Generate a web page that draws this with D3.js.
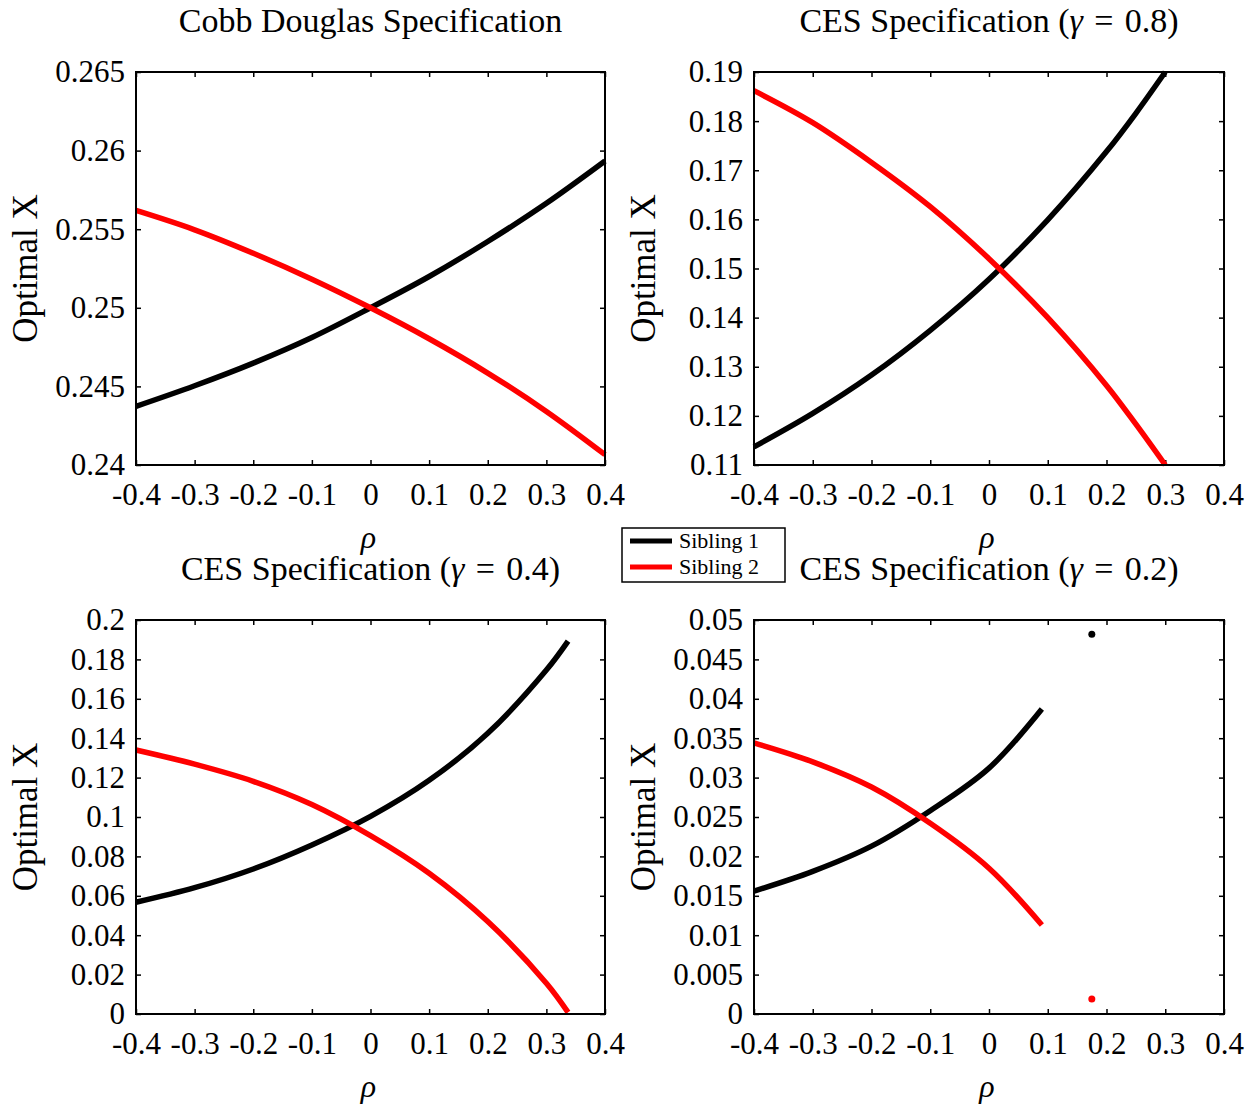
<!DOCTYPE html>
<html>
<head>
	<meta charset="utf-8">
	<title>Optimal X by rho</title>
	<script src="https://cdn.jsdelivr.net/npm/d3@7"></script>
</head>
<style type="text/css">
	body { margin:0; background-color:#fff; }
	text { font-family:"Liberation Serif", "Times New Roman", serif; fill:#000; }
</style>
<body>
</body>
</html>
<script type="text/javascript">
	var width = 1255;
	var height = 1110;

	// x ticks, shared by all panels
	var rhoTicks = [-0.4, -0.3, -0.2, -0.1, 0, 0.1, 0.2, 0.3, 0.4];

	// Cobb Douglas
	var cdRho = [-0.4, -0.3, -0.2, -0.1, 0, 0.1, 0.2, 0.3, 0.4];
	var cdSibling1 = [0.24373, 0.24504, 0.24648, 0.24811, 0.25, 0.25199, 0.25422, 0.25665, 0.25934];
	var cdSibling2 = [0.25619, 0.25496, 0.25347, 0.25182, 0.25, 0.24803, 0.24585, 0.24341, 0.24066];
	var cdTicks = [0.24, 0.245, 0.25, 0.255, 0.26, 0.265];

	// CES gamma = 0.8
	var ces08Rho = [-0.4, -0.3, -0.2, -0.1, 0, 0.1, 0.2, 0.25, 0.3];
	var ces08Sibling1 = [0.1137, 0.1205, 0.1283, 0.1374, 0.1478, 0.1599, 0.1738, 0.1816, 0.1900];
	var ces08Sibling2 = [0.1862, 0.1797, 0.1716, 0.1626, 0.1520, 0.1400, 0.1262, 0.1183, 0.1100];
	var ces08Ticks = [0.11, 0.12, 0.13, 0.14, 0.15, 0.16, 0.17, 0.18, 0.19];

	// CES gamma = 0.4
	var ces04Rho = [-0.4, -0.3, -0.2, -0.1, 0, 0.1, 0.2, 0.3, 0.337];
	var ces04Sibling1 = [0.0567, 0.0641, 0.0736, 0.0858, 0.1003, 0.1186, 0.1425, 0.1746, 0.1893];
	var ces04Sibling2 = [0.1340, 0.1268, 0.1181, 0.1063, 0.0905, 0.0714, 0.0469, 0.0156, 0.0008];
	var ces04Ticks = [0, 0.02, 0.04, 0.06, 0.08, 0.1, 0.12, 0.14, 0.16, 0.18, 0.2];

	// CES gamma = 0.2 (plus the isolated points)
	var ces02Rho = [-0.4, -0.3, -0.2, -0.1, 0, 0.09];
	var ces02Sibling1 = [0.0156, 0.0181, 0.0213, 0.0258, 0.0312, 0.0387];
	var ces02Sibling2 = [0.0344, 0.0320, 0.0288, 0.0242, 0.0185, 0.0113];
	var ces02DotRho = 0.175;
	var ces02DotSibling1 = 0.0482;
	var ces02DotSibling2 = 0.0019;
	var ces02Ticks = [0, 0.005, 0.01, 0.015, 0.02, 0.025, 0.03, 0.035, 0.04, 0.045, 0.05];

	var seriesNames = ["Sibling 1", "Sibling 2"];
	var seriesColors = ["#000000", "#ff0000"];

	var panels = [
		{title:["Cobb Douglas Specification"], left:136, top:72, w:469, h:393, rho:cdRho, s1:cdSibling1, s2:cdSibling2, yTicks:cdTicks},
		{title:["CES Specification (", "γ", "\u2004=\u20040.8)"], left:754, top:72, w:470, h:393, rho:ces08Rho, s1:ces08Sibling1, s2:ces08Sibling2, yTicks:ces08Ticks},
		{title:["CES Specification (", "γ", "\u2004=\u20040.4)"], left:136, top:620, w:469, h:394, rho:ces04Rho, s1:ces04Sibling1, s2:ces04Sibling2, yTicks:ces04Ticks},
		{title:["CES Specification (", "γ", "\u2004=\u20040.2)"], left:754, top:620, w:470, h:394, rho:ces02Rho, s1:ces02Sibling1, s2:ces02Sibling2, yTicks:ces02Ticks,
			dots:[[ces02DotRho, ces02DotSibling1], [ces02DotRho, ces02DotSibling2]]}
	];

	var svg = d3.select("body").append("svg").attr("width", width).attr("height", height);

	panels.forEach(function(p) {
		var g = svg.append("g").attr("transform", "translate(" + p.left + "," + p.top + ")");
		var x = d3.scaleLinear().domain([-0.4, 0.4]).range([0, p.w]);
		var y = d3.scaleLinear().domain(d3.extent(p.yTicks)).range([p.h, 0]);

		var bottom = g.append("g").attr("transform", "translate(0," + p.h + ")")
			.call(d3.axisBottom(x).tickValues(rhoTicks).tickSize(-5).tickPadding(18).tickFormat(function(d){return d;}));
		var left = g.append("g")
			.call(d3.axisLeft(y).tickValues(p.yTicks).tickSize(-5).tickPadding(11).tickFormat(function(d){return d;}));
		var top = g.append("g").call(d3.axisTop(x).tickValues(rhoTicks).tickSize(-5).tickFormat(""));
		var right = g.append("g").attr("transform", "translate(" + p.w + ",0)")
			.call(d3.axisRight(y).tickValues(p.yTicks).tickSize(-5).tickFormat(""));

		[bottom, left, top, right].forEach(function(a) {
			a.select(".domain").remove();
			a.attr("font-family", null).attr("font-size", 31);
			a.selectAll(".tick line").attr("stroke", "#000").attr("stroke-width", 1.5);
			a.selectAll(".tick text").attr("fill", "#000");
		});

		var line = d3.line()
			.x(function(d){return x(d[0]);})
			.y(function(d){return y(d[1]);})
			.curve(d3.curveCatmullRom.alpha(0.5));

		[p.s1, p.s2].forEach(function(vals, si) {
			g.append("path")
				.datum(p.rho.map(function(r, i){return [r, vals[i]];}))
				.attr("d", line)
				.attr("fill", "none")
				.attr("stroke", seriesColors[si])
				.attr("stroke-width", 5.5);
		});

		if (p.dots) {
			g.selectAll("circle").data(p.dots).enter().append("circle")
				.attr("cx", function(d){return x(d[0]);})
				.attr("cy", function(d){return y(d[1]);})
				.attr("r", 3.5)
				.attr("fill", function(d, i){return seriesColors[i];});
		}

		g.append("rect").attr("width", p.w).attr("height", p.h)
			.attr("fill", "none").attr("stroke", "#000").attr("stroke-width", 2);

		var t = g.append("text").attr("x", p.w / 2).attr("y", -40)
			.attr("text-anchor", "middle").attr("font-size", 34);
		p.title.forEach(function(s, i) {
			t.append("tspan").text(s).attr("font-style", i == 1 ? "italic" : null);
		});

		g.append("text").attr("transform", "translate(-99," + (p.h / 2) + ") rotate(-90)")
			.attr("text-anchor", "middle").attr("font-size", 35).text("Optimal X");

		g.append("text").attr("x", p.w / 2 - 2).attr("y", p.h + 83)
			.attr("text-anchor", "middle").attr("font-size", 32).attr("font-style", "italic").text("ρ");
	});

	// legend
	var lg = svg.append("g").attr("transform", "translate(622,528)");
	lg.append("rect").attr("width", 163).attr("height", 54)
		.attr("fill", "#fff").attr("stroke", "#000").attr("stroke-width", 1.5);
	seriesNames.forEach(function(n, i) {
		lg.append("line").attr("x1", 8).attr("x2", 50).attr("y1", 13 + i * 26).attr("y2", 13 + i * 26)
			.attr("stroke", seriesColors[i]).attr("stroke-width", 5);
		lg.append("text").attr("x", 57).attr("y", 20 + i * 26).attr("font-size", 22).text(n);
	});
</script>
